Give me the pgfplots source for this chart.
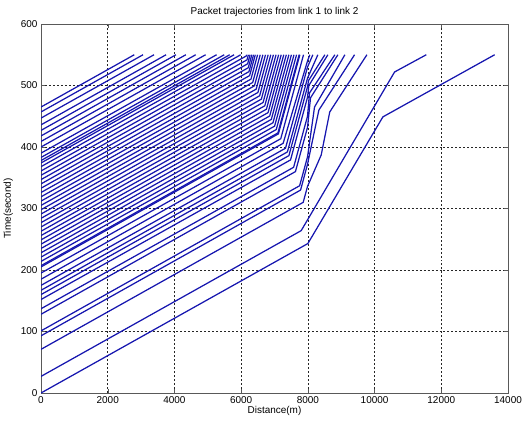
\documentclass[border=0pt]{standalone}
\usepackage{fontspec}
\setmainfont{Liberation Sans}
\usepackage{pgfplots}
\pgfplotsset{compat=1.18}
\definecolor{trajc}{RGB}{22,22,175}
\pgfplotsset{traj/.style={color=trajc, line width=1.25pt, mark=none, line join=round}}
\begin{document}
\begin{tikzpicture}
\path[use as bounding box] (-41bp,-28bp) rectangle (483bp,393bp);
\begin{axis}[
  scale only axis, width=467bp, height=369bp,
  xmin=0, xmax=14000, ymin=0, ymax=600,
  xtick={0,2000,...,14000}, ytick={0,100,...,600},
  scaled ticks=false,
  /pgf/number format/1000 sep={},
  /pgf/number format/assume math mode=true,
  grid=major,
  major grid style={black!85, dash pattern=on 2pt off 2pt, line width=0.5pt},
  tick align=inside, major tick length=4bp,
  axis line style={black!65, line width=0.7pt},
  tick style={black!65},
  font=\fontsize{10}{12}\selectfont,
  ticklabel style={font=\fontsize{10}{12}\selectfont},
  every axis title shift=0pt,
  title={Packet trajectories from link 1 to link 2},
  title style={at={(axis description cs:0.5,1.0325)}, anchor=center},
  xlabel={Distance(m)},
  xlabel style={at={(axis description cs:0.5,-0.0488)}, anchor=center},
  ylabel={Time(second)},
  ylabel style={at={(axis description cs:-0.07,0.5)}, anchor=center},
  clip=true,
]
% group A
\addplot[traj] coordinates {(0,0) (8000,243) (10250,449) (13600,550)};
\addplot[traj] coordinates {(0,27) (7800,264) (10600,522) (11550,550)};
% group B (pass the queue into link 2)
\addplot[traj] coordinates {(0,71) (7860,310) (7990,336) (8400,387) (8656,457) (9770,550)};
\addplot[traj] coordinates {(0,93) (7782,330) (7990,372) (8330,460) (9400,550)};
\addplot[traj] coordinates {(0,101) (7753,337) (7990,384) (8200,465) (9110,550)};
\addplot[traj] coordinates {(0,128) (7628,360) (7990,432) (8080,480) (8900,550)};
\addplot[traj] coordinates {(0,137) (7573,367) (7990,450) (8050,488) (8810,550)};
\addplot[traj] coordinates {(0,152) (7481,379) (7990,481) (8030,500) (8600,550)};
\addplot[traj] coordinates {(0,160) (7432,386) (7990,498) (8020,508) (8510,550)};
\addplot[traj] coordinates {(0,167) (7387,392) (7990,512) (8300,550)};
\addplot[traj] coordinates {(0,175) (7330,398) (7990,530) (8150,550)};
\addplot[traj] coordinates {(0,185) (7259,406) (7990,540) (8060,550)};
% group C (caught in the queue)
\addplot[traj] coordinates {(0,195) (7188,413.5) (7870,550)};
\addplot[traj] coordinates {(0,205) (7117,421.4) (7760,550)};
\addplot[traj] coordinates {(0,207) (7102,422.9) (7738,550)};
\addplot[traj] coordinates {(0,214) (7053,428.4) (7661,550)};
\addplot[traj] coordinates {(0,221) (7003,433.9) (7584,550)};
\addplot[traj] coordinates {(0,228) (6954,439.4) (7507,550)};
\addplot[traj] coordinates {(0,235) (6905,444.9) (7431,550)};
\addplot[traj] coordinates {(0,242) (6856,450.4) (7354,550)};
\addplot[traj] coordinates {(0,249) (6807,455.9) (7278,550)};
\addplot[traj] coordinates {(0,256) (6758,461.4) (7201,550)};
\addplot[traj] coordinates {(0,263) (6709,467.0) (7124,550)};
\addplot[traj] coordinates {(0,270) (6658,472.4) (7046,550)};
\addplot[traj] coordinates {(0,277) (6606,477.8) (6967,550)};
\addplot[traj] coordinates {(0,284) (6555,483.3) (6889,550)};
\addplot[traj] coordinates {(0,291) (6503,488.7) (6810,550)};
\addplot[traj] coordinates {(0,298) (6451,494.1) (6730,550)};
\addplot[traj] coordinates {(0,305) (6399,499.5) (6652,550)};
\addplot[traj] coordinates {(0,312) (6347,505.0) (6572,550)};
\addplot[traj] coordinates {(0,319) (6295,510.4) (6493,550)};
\addplot[traj] coordinates {(0,326) (6254,516.1) (6424,550)};
\addplot[traj] coordinates {(0,333) (6234,522.5) (6372,550)};
\addplot[traj] coordinates {(0,340) (6214,528.9) (6320,550)};
\addplot[traj] coordinates {(0,347) (6195,535.3) (6268,550)};
\addplot[traj] coordinates {(0,354) (6175,541.7) (6217,550)};
\addplot[traj] coordinates {(0,361) (6156,548.1) (6166,550)};
% group D (free flow until the end)
\addplot[traj] coordinates {(0,368) (5987,550)};
\addplot[traj] coordinates {(0,374) (5789,550)};
\addplot[traj] coordinates {(0,378) (5658,550)};
\addplot[traj] coordinates {(0,383) (5493,550)};
\addplot[traj] coordinates {(0,390) (5263,550)};
\addplot[traj] coordinates {(0,400) (4934,550)};
\addplot[traj] coordinates {(0,409) (4638,550)};
\addplot[traj] coordinates {(0,418) (4342,550)};
\addplot[traj] coordinates {(0,427) (4046,550)};
\addplot[traj] coordinates {(0,436) (3750,550)};
\addplot[traj] coordinates {(0,447) (3388,550)};
\addplot[traj] coordinates {(0,457) (3059,550)};
\addplot[traj] coordinates {(0,465) (2796,550)};
\end{axis}
\end{tikzpicture}
\end{document}
